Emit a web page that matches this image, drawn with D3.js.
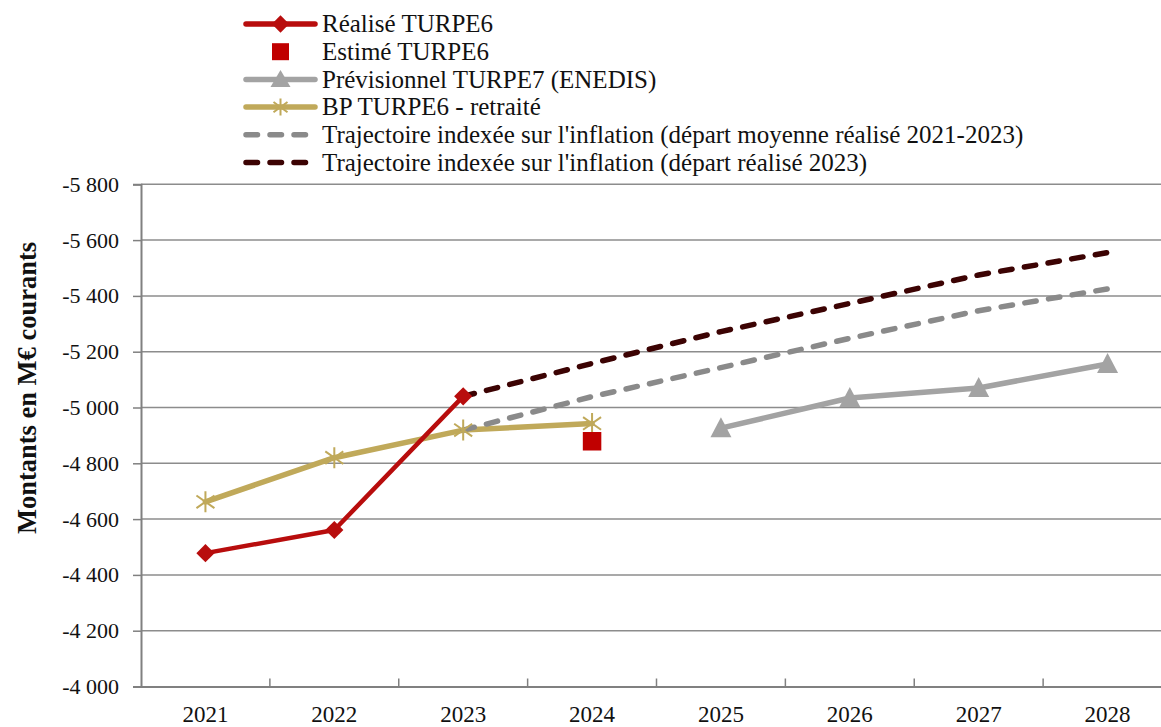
<!DOCTYPE html>
<html>
<head>
<meta charset="utf-8">
<script src="https://cdn.jsdelivr.net/npm/d3@7"></script>
<style>
  body { margin: 0; background: #fff; }
  svg { display: block; font-family: "Liberation Serif", "Times New Roman", serif; }
</style>
</head>
<body>
<svg id="chart" width="1161" height="727"></svg>
<script>
const years = ['2021', '2022', '2023', '2024', '2025', '2026', '2027', '2028']
const realise = [-4478, -4561, -5040, null, null, null, null, null]
const estime = [null, null, null, -4879, null, null, null, null]
const previsionnel = [null, null, null, null, -4926, -5034, -5070, -5156]
const bpRetraite = [-4662, -4820, -4919, -4943, null, null, null, null]
const trajMoyenne = [null, null, -4919, -5039, -5143, -5248, -5347, -5425]
const trajRealise = [null, null, -5040, -5158, -5272, -5373, -5475, -5555]
const yTicks = [-4000, -4200, -4400, -4600, -4800, -5000, -5200, -5400, -5600, -5800]

const legendLabels = [
  'Réalisé TURPE6',
  'Estimé TURPE6',
  'Prévisionnel TURPE7 (ENEDIS)',
  'BP TURPE6 - retraité',
  "Trajectoire indexée sur l'inflation (départ moyenne réalisé 2021-2023)",
  "Trajectoire indexée sur l'inflation (départ réalisé 2023)",
]

const FONT = '"Liberation Serif", "Times New Roman", serif'
const RED = '#b80d0d'
const SQUARE_RED = '#c00000'
const GREY = '#a3a3a3'
const GOLD = '#c0a95a'
const DASH_GREY = '#8a8a8a'
const DASH_DARK = '#3c0303'
const DASH = '11.5 12.5'

const svg = d3.select('#chart')
const fr = d3.formatLocale({decimal: ',', thousands: ' ', grouping: [3], currency: ['', ' €'], minus: '-'})
const fmt = fr.format(',d')

const x = d3.scaleBand().domain(years).range([141, 1172])
const y = d3.scaleLinear().domain([-4000, -5800]).range([686.5, 184.3])
const cx = (d, i) => x(years[i]) + x.bandwidth() / 2

// gridlines
svg.append('g')
  .selectAll('line')
  .data(yTicks.slice(1))
  .enter()
  .append('line')
  .attr('x1', 141).attr('x2', 1161)
  .attr('y1', (d) => y(d)).attr('y2', (d) => y(d))
  .attr('stroke', '#8c8c8c').attr('stroke-width', 1.5)

// y axis
const yAxis = svg.append('g')
  .attr('transform', 'translate(141,0)')
  .call(d3.axisLeft(y).tickValues(yTicks).tickSize(8).tickPadding(14).tickFormat(fmt))
yAxis.select('.domain').attr('stroke', '#808080').attr('stroke-width', 2)
yAxis.selectAll('.tick line').attr('stroke', '#808080').attr('stroke-width', 1.5)
yAxis.selectAll('.tick text').attr('font-size', 22).attr('fill', '#111')
  .attr('font-family', FONT)

// x axis
const xAxis = svg.append('g')
  .attr('transform', `translate(0,${y(-4000)})`)
  .call(d3.axisBottom(x).tickSize(0).tickPadding(19))
xAxis.select('.domain').attr('stroke', '#808080').attr('stroke-width', 2)
xAxis.selectAll('.tick text').attr('font-size', 23).attr('fill', '#111')
  .attr('font-family', FONT)
// inside ticks at band boundaries
xAxis.append('g')
  .selectAll('line')
  .data(years.slice(1))
  .enter()
  .append('line')
  .attr('x1', (d) => x(d)).attr('x2', (d) => x(d))
  .attr('y1', 0).attr('y2', -8)
  .attr('stroke', '#808080').attr('stroke-width', 1.5)

// y label
svg.append('text')
  .attr('transform', 'translate(36,388) rotate(-90)')
  .attr('text-anchor', 'middle')
  .attr('font-family', FONT)
  .attr('font-size', 26.5)
  .attr('font-weight', 'bold')
  .attr('fill', '#111')
  .text('Montants en M€ courants')

const line = d3.line()
  .defined((d) => d !== null)
  .x(cx)
  .y((d) => y(d))

function drawLine(data, color, width, dash) {
  svg.append('path')
    .datum(data)
    .attr('d', line)
    .attr('fill', 'none')
    .attr('stroke', color)
    .attr('stroke-width', width)
    .attr('stroke-linejoin', 'round')
    .attr('stroke-linecap', 'round')
    .attr('stroke-dasharray', dash || null)
}

const star = (w, h) => `M${-w},${-h * 0.6}L${w},${h * 0.6}M${-w},${h * 0.6}L${w},${-h * 0.6}M0,${-h}L0,${h}`

drawLine(bpRetraite, GOLD, 5.5)
drawLine(realise, RED, 4.5)
drawLine(previsionnel, GREY, 5.5)
drawLine(trajMoyenne, DASH_GREY, 5.5, DASH)
drawLine(trajRealise, DASH_DARK, 5.5, DASH)

function points(data) {
  return data.map((d, i) => ({v: d, i: i})).filter((p) => p.v !== null)
}

svg.append('g').selectAll('path')
  .data(points(bpRetraite)).enter().append('path')
  .attr('transform', (p) => `translate(${cx(p.v, p.i)},${y(p.v)})`)
  .attr('d', star(9, 10.5))
  .attr('stroke', GOLD).attr('stroke-width', 2).attr('fill', 'none')

svg.append('g').selectAll('path')
  .data(points(realise)).enter().append('path')
  .attr('d', d3.symbol(d3.symbolSquare, 165)())
  .attr('transform', (p) => `translate(${cx(p.v, p.i)},${y(p.v)}) rotate(45)`)
  .attr('fill', RED)

svg.append('g').selectAll('rect')
  .data(points(estime)).enter().append('rect')
  .attr('x', (p) => cx(p.v, p.i) - 9.25).attr('y', (p) => y(p.v) - 9.25)
  .attr('width', 18.5).attr('height', 18.5)
  .attr('fill', SQUARE_RED)

svg.append('g').selectAll('path')
  .data(points(previsionnel)).enter().append('path')
  .attr('d', 'M0,-11L10.5,9L-10.5,9Z')
  .attr('transform', (p) => `translate(${cx(p.v, p.i)},${y(p.v)})`)
  .attr('fill', GREY)

// legend
const legend = svg.append('g')
const rowY = (i) => 24 + i * 27.7
const lx1 = 246, lx2 = 315, lxm = 280.5
legend.selectAll('text')
  .data(legendLabels).enter().append('text')
  .attr('x', 322).attr('y', (d, i) => rowY(i))
  .attr('dy', '0.33em')
  .attr('font-family', FONT)
  .attr('font-size', 25)
  .attr('fill', '#111')
  .text((d) => d)

const lineStyles = [
  {color: RED, dash: null},
  null,
  {color: GREY, dash: null},
  {color: GOLD, dash: null},
  {color: DASH_GREY, dash: DASH},
  {color: DASH_DARK, dash: DASH},
]
lineStyles.forEach((s, i) => {
  if (!s) return
  legend.append('line')
    .attr('x1', lx1).attr('x2', lx2)
    .attr('y1', rowY(i)).attr('y2', rowY(i))
    .attr('stroke', s.color).attr('stroke-width', 5.5)
    .attr('stroke-linecap', 'round')
    .attr('stroke-dasharray', s.dash)
})
legend.append('path')
  .attr('d', d3.symbol(d3.symbolSquare, 150)())
  .attr('transform', `translate(${lxm},${rowY(0)}) rotate(45)`)
  .attr('fill', RED)
legend.append('rect')
  .attr('x', lxm - 8.5).attr('y', rowY(1) - 8.5)
  .attr('width', 17).attr('height', 17).attr('fill', SQUARE_RED)
legend.append('path')
  .attr('d', 'M0,-9.5L10,7.5L-10,7.5Z')
  .attr('transform', `translate(${lxm},${rowY(2)})`)
  .attr('fill', GREY)
legend.append('path')
  .attr('d', star(7, 8.5))
  .attr('transform', `translate(${lxm},${rowY(3)})`)
  .attr('stroke', GOLD).attr('stroke-width', 2).attr('fill', 'none')
</script>
</body>
</html>
